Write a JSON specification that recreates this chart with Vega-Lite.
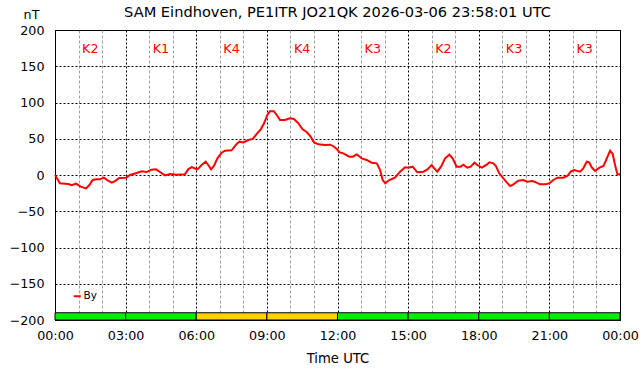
{
  "$schema": "https://vega.github.io/schema/vega-lite/v6.json",
  "width": 565,
  "height": 290,
  "autosize": {"type": "none"},
  "padding": {"left": 55, "top": 30, "right": 22, "bottom": 56},
  "background": "white",
  "config": {
    "font": "DejaVu Sans",
    "view": {"stroke": "black", "strokeWidth": 1}
  },
  "title": {
    "text": "SAM Eindhoven, PE1ITR JO21QK 2026-03-06 23:58:01 UTC",
    "font": "DejaVu Sans",
    "fontSize": 14.6,
    "fontWeight": "normal",
    "color": "black",
    "frame": "group",
    "anchor": "middle",
    "offset": -12
  },
  "datasets": {
    "kidx": [
      {"start": 0, "end": 3, "mid": 1.5, "k": 2, "label": "K2"},
      {"start": 3, "end": 6, "mid": 4.5, "k": 1, "label": "K1"},
      {"start": 6, "end": 9, "mid": 7.5, "k": 4, "label": "K4"},
      {"start": 9, "end": 12, "mid": 10.5, "k": 4, "label": "K4"},
      {"start": 12, "end": 15, "mid": 13.5, "k": 3, "label": "K3"},
      {"start": 15, "end": 18, "mid": 16.5, "k": 2, "label": "K2"},
      {"start": 18, "end": 21, "mid": 19.5, "k": 3, "label": "K3"},
      {"start": 21, "end": 24, "mid": 22.5, "k": 3, "label": "K3"}
    ],
    "by": [
      {"h": 0, "v": 0, "series": "By"},
      {"h": 0.21, "v": -11.5, "series": "By"},
      {"h": 0.57, "v": -12.4, "series": "By"},
      {"h": 0.71, "v": -14, "series": "By"},
      {"h": 0.89, "v": -12, "series": "By"},
      {"h": 1.09, "v": -16, "series": "By"},
      {"h": 1.32, "v": -18.4, "series": "By"},
      {"h": 1.46, "v": -13.8, "series": "By"},
      {"h": 1.6, "v": -6.9, "series": "By"},
      {"h": 1.77, "v": -6, "series": "By"},
      {"h": 1.91, "v": -6, "series": "By"},
      {"h": 2.08, "v": -3.7, "series": "By"},
      {"h": 2.22, "v": -7, "series": "By"},
      {"h": 2.41, "v": -10.6, "series": "By"},
      {"h": 2.55, "v": -8.3, "series": "By"},
      {"h": 2.73, "v": -4.1, "series": "By"},
      {"h": 3.02, "v": -3.7, "series": "By"},
      {"h": 3.19, "v": 0, "series": "By"},
      {"h": 3.47, "v": 2.8, "series": "By"},
      {"h": 3.68, "v": 5, "series": "By"},
      {"h": 3.89, "v": 4.1, "series": "By"},
      {"h": 4.1, "v": 7.4, "series": "By"},
      {"h": 4.29, "v": 7.8, "series": "By"},
      {"h": 4.46, "v": 4.1, "series": "By"},
      {"h": 4.67, "v": -0.5, "series": "By"},
      {"h": 4.89, "v": 1.4, "series": "By"},
      {"h": 5.17, "v": 0.5, "series": "By"},
      {"h": 5.52, "v": 0.9, "series": "By"},
      {"h": 5.66, "v": 7.8, "series": "By"},
      {"h": 5.81, "v": 11, "series": "By"},
      {"h": 5.95, "v": 9, "series": "By"},
      {"h": 6.05, "v": 7.8, "series": "By"},
      {"h": 6.23, "v": 13.8, "series": "By"},
      {"h": 6.4, "v": 18.4, "series": "By"},
      {"h": 6.51, "v": 13.8, "series": "By"},
      {"h": 6.63, "v": 7.8, "series": "By"},
      {"h": 6.75, "v": 12.4, "series": "By"},
      {"h": 6.9, "v": 23, "series": "By"},
      {"h": 7.08, "v": 30.8, "series": "By"},
      {"h": 7.22, "v": 33.6, "series": "By"},
      {"h": 7.5, "v": 34, "series": "By"},
      {"h": 7.72, "v": 42.8, "series": "By"},
      {"h": 7.83, "v": 46, "series": "By"},
      {"h": 8.0, "v": 45, "series": "By"},
      {"h": 8.21, "v": 48.3, "series": "By"},
      {"h": 8.4, "v": 49.7, "series": "By"},
      {"h": 8.57, "v": 56.6, "series": "By"},
      {"h": 8.74, "v": 63, "series": "By"},
      {"h": 8.88, "v": 71.3, "series": "By"},
      {"h": 9.02, "v": 82.8, "series": "By"},
      {"h": 9.13, "v": 87.8, "series": "By"},
      {"h": 9.3, "v": 87.8, "series": "By"},
      {"h": 9.42, "v": 82.8, "series": "By"},
      {"h": 9.56, "v": 75.9, "series": "By"},
      {"h": 9.77, "v": 75.9, "series": "By"},
      {"h": 9.98, "v": 78.2, "series": "By"},
      {"h": 10.15, "v": 77.2, "series": "By"},
      {"h": 10.34, "v": 71.3, "series": "By"},
      {"h": 10.52, "v": 63, "series": "By"},
      {"h": 10.69, "v": 59.3, "series": "By"},
      {"h": 10.86, "v": 52.9, "series": "By"},
      {"h": 11.0, "v": 45, "series": "By"},
      {"h": 11.19, "v": 42.3, "series": "By"},
      {"h": 11.47, "v": 41.4, "series": "By"},
      {"h": 11.68, "v": 41.8, "series": "By"},
      {"h": 11.82, "v": 40, "series": "By"},
      {"h": 11.97, "v": 35.9, "series": "By"},
      {"h": 12.08, "v": 31.3, "series": "By"},
      {"h": 12.25, "v": 29.9, "series": "By"},
      {"h": 12.5, "v": 25.3, "series": "By"},
      {"h": 12.65, "v": 25.3, "series": "By"},
      {"h": 12.82, "v": 28.5, "series": "By"},
      {"h": 13.03, "v": 23, "series": "By"},
      {"h": 13.24, "v": 20.7, "series": "By"},
      {"h": 13.45, "v": 17, "series": "By"},
      {"h": 13.67, "v": 16.1, "series": "By"},
      {"h": 13.81, "v": 6.9, "series": "By"},
      {"h": 13.92, "v": -6.9, "series": "By"},
      {"h": 14.03, "v": -11.5, "series": "By"},
      {"h": 14.2, "v": -6.9, "series": "By"},
      {"h": 14.44, "v": -3.7, "series": "By"},
      {"h": 14.66, "v": 4.6, "series": "By"},
      {"h": 14.87, "v": 10.6, "series": "By"},
      {"h": 15.01, "v": 10.1, "series": "By"},
      {"h": 15.19, "v": 11.5, "series": "By"},
      {"h": 15.39, "v": 3.7, "series": "By"},
      {"h": 15.65, "v": 4.6, "series": "By"},
      {"h": 15.82, "v": 7.8, "series": "By"},
      {"h": 16.0, "v": 13.8, "series": "By"},
      {"h": 16.11, "v": 9.2, "series": "By"},
      {"h": 16.24, "v": 4.6, "series": "By"},
      {"h": 16.4, "v": 11.5, "series": "By"},
      {"h": 16.57, "v": 23, "series": "By"},
      {"h": 16.75, "v": 28, "series": "By"},
      {"h": 16.89, "v": 23, "series": "By"},
      {"h": 17.06, "v": 11.5, "series": "By"},
      {"h": 17.23, "v": 11.5, "series": "By"},
      {"h": 17.35, "v": 14.3, "series": "By"},
      {"h": 17.52, "v": 10.1, "series": "By"},
      {"h": 17.66, "v": 11.5, "series": "By"},
      {"h": 17.82, "v": 17, "series": "By"},
      {"h": 17.94, "v": 13.8, "series": "By"},
      {"h": 18.13, "v": 10.1, "series": "By"},
      {"h": 18.34, "v": 14.3, "series": "By"},
      {"h": 18.45, "v": 17.5, "series": "By"},
      {"h": 18.62, "v": 16.1, "series": "By"},
      {"h": 18.73, "v": 12.4, "series": "By"},
      {"h": 18.87, "v": 2.3, "series": "By"},
      {"h": 19.02, "v": -3.7, "series": "By"},
      {"h": 19.16, "v": -9.2, "series": "By"},
      {"h": 19.33, "v": -15.2, "series": "By"},
      {"h": 19.47, "v": -12.9, "series": "By"},
      {"h": 19.68, "v": -7.8, "series": "By"},
      {"h": 19.89, "v": -6.9, "series": "By"},
      {"h": 20.06, "v": -9.2, "series": "By"},
      {"h": 20.29, "v": -8.3, "series": "By"},
      {"h": 20.46, "v": -10.6, "series": "By"},
      {"h": 20.6, "v": -12.9, "series": "By"},
      {"h": 20.82, "v": -12.9, "series": "By"},
      {"h": 21.0, "v": -11.5, "series": "By"},
      {"h": 21.17, "v": -6.9, "series": "By"},
      {"h": 21.34, "v": -3.7, "series": "By"},
      {"h": 21.59, "v": -3.7, "series": "By"},
      {"h": 21.76, "v": -1.4, "series": "By"},
      {"h": 21.91, "v": 4.6, "series": "By"},
      {"h": 22.05, "v": 6.9, "series": "By"},
      {"h": 22.3, "v": 4.6, "series": "By"},
      {"h": 22.44, "v": 9.2, "series": "By"},
      {"h": 22.59, "v": 18.4, "series": "By"},
      {"h": 22.69, "v": 17.5, "series": "By"},
      {"h": 22.8, "v": 10.6, "series": "By"},
      {"h": 22.94, "v": 5.5, "series": "By"},
      {"h": 23.13, "v": 10.1, "series": "By"},
      {"h": 23.3, "v": 12.4, "series": "By"},
      {"h": 23.44, "v": 23, "series": "By"},
      {"h": 23.58, "v": 33.6, "series": "By"},
      {"h": 23.69, "v": 29, "series": "By"},
      {"h": 23.79, "v": 13.8, "series": "By"},
      {"h": 23.89, "v": 0.9, "series": "By"},
      {"h": 24.0, "v": 0.9, "series": "By"}
    ]
  },
  "layer": [
    {
      "data": {"name": "kidx"},
      "mark": {"type": "rect", "stroke": "black", "strokeWidth": 1},
      "encoding": {
        "x": {
          "field": "start", "type": "quantitative",
          "scale": {"domain": [0, 24], "nice": false, "zero": false},
          "axis": {
            "title": "Time UTC",
            "values": [0,1,2,3,4,5,6,7,8,9,10,11,12,13,14,15,16,17,18,19,20,21,22,23,24],
            "labelExpr": "datum.value % 3 === 0 ? (((datum.value % 24) < 10 ? '0' : '') + (datum.value % 24) + ':00') : ''",
            "grid": true,
            "gridColor": {"condition": {"test": "datum.value % 3 === 0", "value": "#000000"}, "value": "#a0a0a0"},
            "gridDash": {"condition": {"test": "datum.value % 3 === 0", "value": [2, 2]}, "value": [3, 2]},
            "gridOpacity": 1,
            "ticks": false,
            "domain": false,
            "labelFontSize": 12.7,
            "labelColor": "black",
            "labelPadding": 9,
            "labelFlush": false,
            "labelOverlap": false,
            "titleFontSize": 13.2,
            "titleFontWeight": "normal",
            "titleColor": "black",
            "titlePadding": 11
          }
        },
        "x2": {"field": "end"},
        "y": {
          "datum": -200, "type": "quantitative",
          "scale": {"domain": [-200, 200], "nice": false, "zero": false},
          "axis": {
            "title": "nT",
            "values": [-200,-150,-100,-50,0,50,100,150,200],
            "grid": true,
            "gridColor": "#000000",
            "gridDash": [2, 2],
            "gridOpacity": 1,
            "ticks": false,
            "domain": false,
            "labelFontSize": 12.7,
            "labelColor": "black",
            "labelPadding": 11,
            "labelOverlap": false,
            "titleAngle": 0,
            "titleX": -24,
            "titleY": -16,
            "titleAlign": "center",
            "titleBaseline": "middle",
            "titleFontSize": 12.7,
            "titleFontWeight": "normal",
            "titleColor": "black"
          }
        },
        "y2": {"datum": -190},
        "fill": {"condition": {"test": "datum.k >= 4", "value": "#ffd200"}, "value": "#00f000"}
      }
    },
    {
      "data": {"name": "kidx"},
      "mark": {"type": "text", "color": "#ff0000", "fontSize": 12.7, "baseline": "middle", "align": "center"},
      "encoding": {
        "x": {
          "field": "mid", "type": "quantitative",
          "axis": {
            "title": "Time UTC",
            "values": [0,1,2,3,4,5,6,7,8,9,10,11,12,13,14,15,16,17,18,19,20,21,22,23,24],
            "labelExpr": "datum.value % 3 === 0 ? (((datum.value % 24) < 10 ? '0' : '') + (datum.value % 24) + ':00') : ''",
            "grid": true,
            "gridColor": {"condition": {"test": "datum.value % 3 === 0", "value": "#000000"}, "value": "#a0a0a0"},
            "gridDash": {"condition": {"test": "datum.value % 3 === 0", "value": [2, 2]}, "value": [3, 2]},
            "gridOpacity": 1,
            "ticks": false,
            "domain": false,
            "labelFontSize": 12.7,
            "labelColor": "black",
            "labelPadding": 9,
            "labelFlush": false,
            "labelOverlap": false,
            "titleFontSize": 13.2,
            "titleFontWeight": "normal",
            "titleColor": "black",
            "titlePadding": 11
          }
        },
        "y": {
          "datum": 174, "type": "quantitative",
          "axis": {
            "title": "nT",
            "values": [-200,-150,-100,-50,0,50,100,150,200],
            "grid": true,
            "gridColor": "#000000",
            "gridDash": [2, 2],
            "gridOpacity": 1,
            "ticks": false,
            "domain": false,
            "labelFontSize": 12.7,
            "labelColor": "black",
            "labelPadding": 11,
            "labelOverlap": false,
            "titleAngle": 0,
            "titleX": -24,
            "titleY": -16,
            "titleAlign": "center",
            "titleBaseline": "middle",
            "titleFontSize": 12.7,
            "titleFontWeight": "normal",
            "titleColor": "black"
          }
        },
        "text": {"field": "label"}
      }
    },
    {
      "data": {"name": "by"},
      "mark": {"type": "line", "strokeWidth": 2, "interpolate": "linear"},
      "encoding": {
        "x": {
          "field": "h", "type": "quantitative",
          "axis": {
            "title": "Time UTC",
            "values": [0,1,2,3,4,5,6,7,8,9,10,11,12,13,14,15,16,17,18,19,20,21,22,23,24],
            "labelExpr": "datum.value % 3 === 0 ? (((datum.value % 24) < 10 ? '0' : '') + (datum.value % 24) + ':00') : ''",
            "grid": true,
            "gridColor": {"condition": {"test": "datum.value % 3 === 0", "value": "#000000"}, "value": "#a0a0a0"},
            "gridDash": {"condition": {"test": "datum.value % 3 === 0", "value": [2, 2]}, "value": [3, 2]},
            "gridOpacity": 1,
            "ticks": false,
            "domain": false,
            "labelFontSize": 12.7,
            "labelColor": "black",
            "labelPadding": 9,
            "labelFlush": false,
            "labelOverlap": false,
            "titleFontSize": 13.2,
            "titleFontWeight": "normal",
            "titleColor": "black",
            "titlePadding": 11
          }
        },
        "y": {
          "field": "v", "type": "quantitative",
          "axis": {
            "title": "nT",
            "values": [-200,-150,-100,-50,0,50,100,150,200],
            "grid": true,
            "gridColor": "#000000",
            "gridDash": [2, 2],
            "gridOpacity": 1,
            "ticks": false,
            "domain": false,
            "labelFontSize": 12.7,
            "labelColor": "black",
            "labelPadding": 11,
            "labelOverlap": false,
            "titleAngle": 0,
            "titleX": -24,
            "titleY": -16,
            "titleAlign": "center",
            "titleBaseline": "middle",
            "titleFontSize": 12.7,
            "titleFontWeight": "normal",
            "titleColor": "black"
          }
        },
        "color": {
          "field": "series", "type": "nominal",
          "scale": {"range": ["#ff0000"]},
          "legend": {
            "orient": "none",
            "legendX": 17,
            "legendY": 261,
            "title": null,
            "symbolType": "stroke",
            "symbolStrokeWidth": 2,
            "symbolSize": 50,
            "labelFontSize": 10.5,
            "labelColor": "black",
            "labelOffset": 1,
            "padding": 0
          }
        }
      }
    }
  ]
}
